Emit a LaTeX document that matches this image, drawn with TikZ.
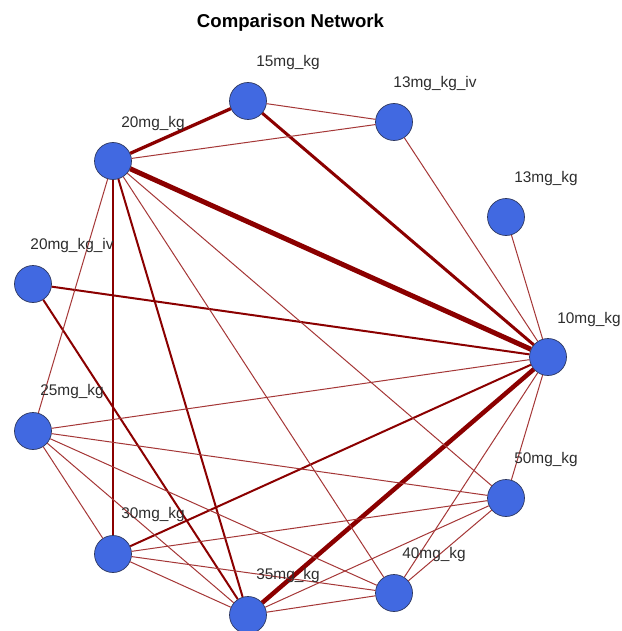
\documentclass[tikz,border=0pt]{standalone}
\usepackage{fontspec}
\setmainfont{Liberation Sans}
\definecolor{royal}{RGB}{65,105,225}
\definecolor{rim}{RGB}{45,55,95}
\definecolor{edgedark}{RGB}{139,0,0}
\definecolor{edgethin}{RGB}{165,55,55}
\definecolor{labgray}{RGB}{45,45,45}
\begin{document}
\begin{tikzpicture}[x=1pt,y=-1pt,
  vert/.style={circle, fill=royal, draw=rim, line width=0.7pt, minimum size=37pt, inner sep=0pt},
  lab/.style={font=\fontsize{15.4}{18}\selectfont, text=labgray, inner sep=0pt},
  wthin/.style={draw=edgethin, line width=1pt},
  wmed/.style={draw=edgedark, line width=2pt},
  wthick/.style={draw=edgedark, line width=3.3pt},
  wvthick/.style={draw=edgedark, line width=5pt}]
\useasboundingbox (0,0) rectangle (621,631);
\fill[white] (0,0) rectangle (621,631);
\node[font=\fontsize{18.6}{22}\selectfont\bfseries] (title) at (290.5,23) {Comparison Network};
% vertices
\node[vert] (n10) at (548,357) {};
\node[vert] (n13) at (506,217) {};
\node[vert] (n13iv) at (394,122) {};
\node[vert] (n15) at (248,101) {};
\node[vert] (n20) at (113,161) {};
\node[vert] (n20iv) at (33,284) {};
\node[vert] (n25) at (33,431) {};
\node[vert] (n30) at (113,554) {};
\node[vert] (n35) at (248,615) {};
\node[vert] (n40) at (394,593) {};
\node[vert] (n50) at (506,498) {};
% edges
\draw[wvthick] (n20) -- (n10);
\draw[wvthick, line width=4.5pt] (n35) -- (n10);
\draw[wthick] (n20) -- (n15);
\draw[wthick, line width=3pt] (n15) -- (n10);
\draw[wmed] (n20iv) -- (n10);
\draw[wmed] (n30) -- (n10);
\draw[wmed] (n20) -- (n30);
\draw[wmed] (n20) -- (n35);
\draw[wmed] (n20iv) -- (n35);
\draw[wthin] (n20) -- (n13iv);
\draw[wthin] (n15) -- (n13iv);
\draw[wthin] (n13iv) -- (n10);
\draw[wthin] (n13) -- (n10);
\draw[wthin] (n20) -- (n25);
\draw[wthin] (n20) -- (n40);
\draw[wthin] (n20) -- (n50);
\draw[wthin] (n25) -- (n10);
\draw[wthin] (n25) -- (n50);
\draw[wthin] (n25) -- (n30);
\draw[wthin] (n25) -- (n35);
\draw[wthin] (n25) -- (n40);
\draw[wthin] (n30) -- (n50);
\draw[wthin] (n30) -- (n40);
\draw[wthin] (n30) -- (n35);
\draw[wthin] (n35) -- (n40);
\draw[wthin] (n35) -- (n50);
\draw[wthin] (n40) -- (n10);
\draw[wthin] (n40) -- (n50);
\draw[wthin] (n50) -- (n10);
% labels
\node[lab] (l10) at (589,320) {10mg\_kg};
\node[lab] (l13) at (546,179) {13mg\_kg};
\node[lab] (l13iv) at (435,84) {13mg\_kg\_iv};
\node[lab] (l15) at (288,63) {15mg\_kg};
\node[lab] (l20) at (153,124) {20mg\_kg};
\node[lab] (l20iv) at (72,246) {20mg\_kg\_iv};
\node[lab] (l25) at (72,392) {25mg\_kg};
\node[lab] (l30) at (153,515) {30mg\_kg};
\node[lab] (l35) at (288,576) {35mg\_kg};
\node[lab] (l40) at (434,555) {40mg\_kg};
\node[lab] (l50) at (546,460) {50mg\_kg};
\end{tikzpicture}
\end{document}
